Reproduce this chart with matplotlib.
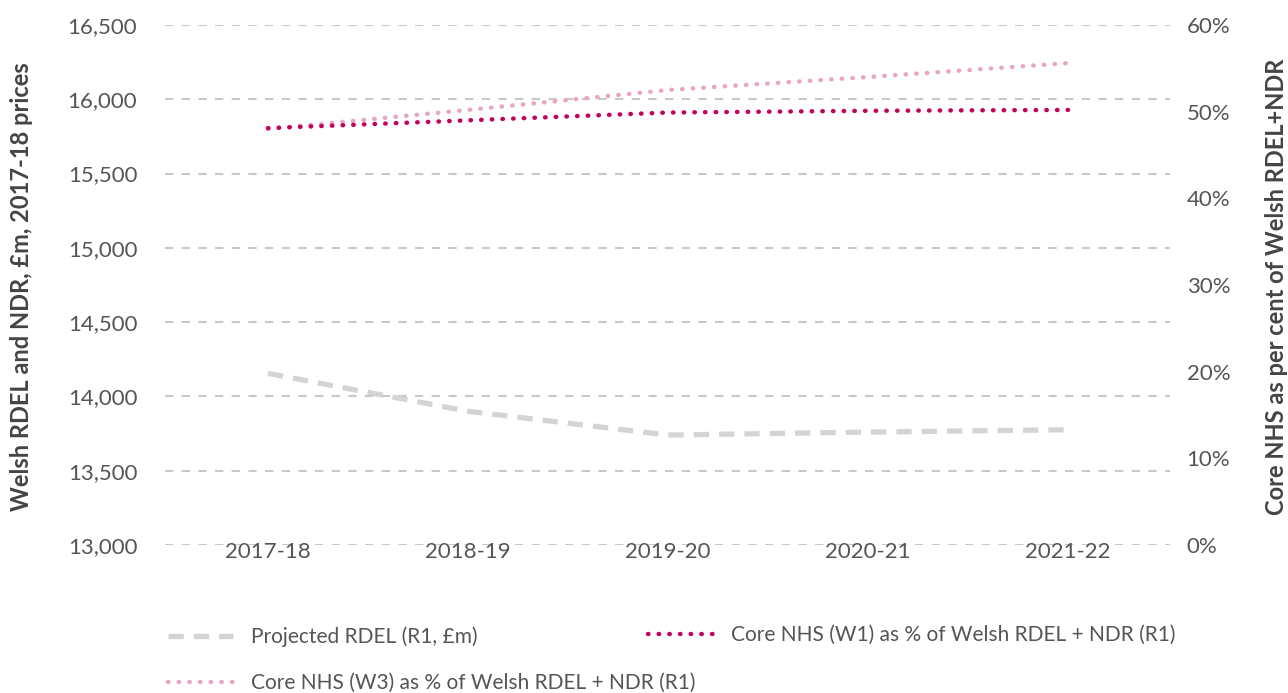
import matplotlib
matplotlib.use("Agg")
import matplotlib.pyplot as plt
from matplotlib.lines import Line2D

years = ["2017-18", "2018-19", "2019-20", "2020-21", "2021-22"]
rdel = [14155, 13900, 13740, 13760, 13776]
core_w1 = [48.1, 49.0, 49.9, 50.1, 50.2]
core_w3 = [48.0, 50.2, 52.5, 54.0, 55.6]

left_ticks = [13000, 13500, 14000, 14500, 15000, 15500, 16000, 16500]
right_ticks = [0, 10, 20, 30, 40, 50, 60]

plt.rcParams['font.family'] = ['Lato', 'DejaVu Sans']

fig = plt.figure(figsize=(12.88, 6.93), dpi=100)
ax = fig.add_axes([165/1288, 1-545/693, (1170-165)/1288, 520/693])
ax2 = ax.twinx()

x = list(range(len(years)))
grid_c = '#c8c8c8'
for t in left_ticks:
    ax.axhline(t, color=grid_c, lw=1.5, ls=(0, (4, 4)), zorder=0)

rdel_style = dict(color='#d4d4d4', lw=3.8, ls=(0, (2.9, 1.9)))
w3_style = dict(color='#e8a6c6', lw=3.2, ls=(0, (0.1, 2.3)), dash_capstyle='round')
w1_style = dict(color='#c2005e', lw=3.2, ls=(0, (0.1, 2.3)), dash_capstyle='round')

ax.plot(x, rdel, zorder=2, **rdel_style)
ax2.plot(x, core_w3, zorder=3, **w3_style)
ax2.plot(x, core_w1, zorder=4, **w1_style)

ax.set_xlim(-0.515, 4.51)
ax.set_ylim(13000, 16500)
ax2.set_ylim(0, 60)
ax.set_yticks(left_ticks)
ax.set_yticklabels([f"{v:,}" for v in left_ticks])
ax2.set_yticks(right_ticks)
ax2.set_yticklabels([f"{v}%" for v in right_ticks])
ax.set_xticks(x)
ax.set_xticklabels(years)

tick_c = '#555555'
for a in (ax, ax2):
    for s in a.spines.values():
        s.set_visible(False)
    a.tick_params(length=0, colors=tick_c, labelsize=16)
ax.tick_params(axis='y', pad=20)
ax2.tick_params(axis='y', pad=12)
ax.tick_params(axis='x', pad=-2)

lab_c = '#444444'
fig.text(22/1288, 1-287/693, "Welsh RDEL and NDR, £m, 2017-18 prices", rotation=90,
         ha='center', va='center', fontsize=17, fontweight='bold', color=lab_c)
fig.text(1276/1288, 1-287/693, "Core NHS as per cent of Welsh RDEL+NDR", rotation=90,
         ha='center', va='center', fontsize=17, fontweight='bold', color=lab_c)

entries = [
    (Line2D([], [], **rdel_style), "Projected RDEL (R1, £m)", 168, 637),
    (Line2D([], [], **w1_style), "Core NHS (W1) as % of Welsh RDEL + NDR (R1)", 648, 635),
    (Line2D([], [], **w3_style), "Core NHS (W3) as % of Welsh RDEL + NDR (R1)", 168, 683),
]
for h, lab, px, py in entries:
    leg = fig.legend([h], [lab], loc='center left',
                     bbox_to_anchor=(px/1288, 1-py/693), frameon=False,
                     fontsize=15, handlelength=3.1, handletextpad=0.9,
                     borderpad=0, borderaxespad=0)
    for t in leg.get_texts():
        t.set_color(tick_c)

fig.savefig("out.png", dpi=100)
